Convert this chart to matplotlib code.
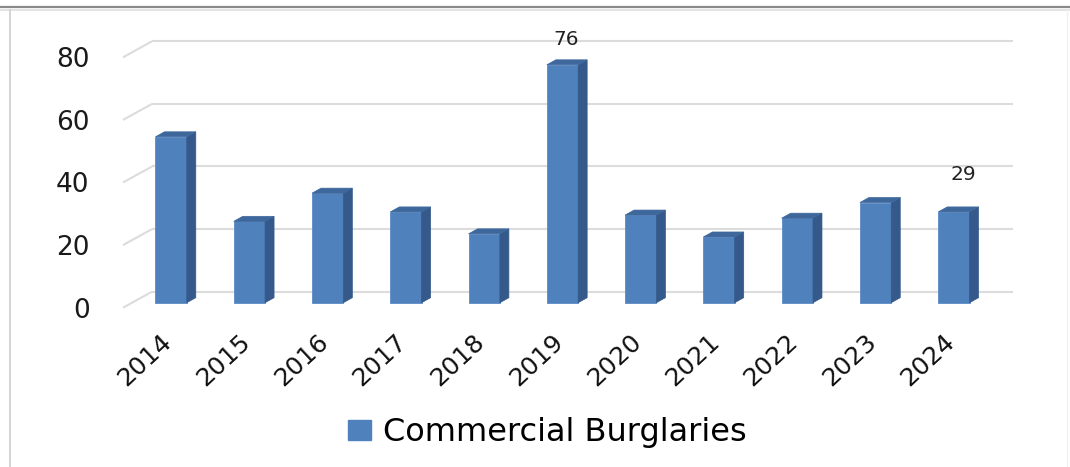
import matplotlib
matplotlib.use("Agg")
import matplotlib.pyplot as plt
from matplotlib.patches import Polygon, Patch
from matplotlib.lines import Line2D
from matplotlib.transforms import ScaledTranslation

# ---- data ----
years = ["2014", "2015", "2016", "2017", "2018", "2019",
         "2020", "2021", "2022", "2023", "2024"]
burglaries = [53, 26, 35, 29, 22, 76, 28, 21, 27, 32, 29]
y_ticks = [0, 20, 40, 60, 80]
series_name = "Commercial Burglaries"
labelled_years = ["2019", "2024"]

# ---- style ----
FRONT = "#4f81bd"
SIDE = "#34598a"
TOP = "#3e679c"
GRID = "#dcdcdc"
FONT = "DejaVu Sans"

W, H = 1070, 467
fig = plt.figure(figsize=(W / 100, H / 100), dpi=100)
fig.patch.set_facecolor("white")

# front plane of the pseudo-3D plot area, in pixels
left_px, right_px = 123, 984
top_px, bottom_px = 57.3, 307.7
ax = fig.add_axes([left_px / W, (H - bottom_px) / H,
                   (right_px - left_px) / W, (bottom_px - top_px) / H])
n = len(years)
ax.set_xlim(-0.5, n - 0.5)
ax.set_ylim(0, 80)
for s in ax.spines.values():
    s.set_visible(False)

# pixels per data unit, used to express depth offsets
px_x = (right_px - left_px) / n
px_y = (bottom_px - top_px) / 80.0

# depth vectors (pixels) -> data units
back_dx, back_dy = 29 / px_x, 16 / px_y     # back wall
bar_dx, bar_dy = 9 / px_x, 5 / px_y         # bar front offset and bar depth

# gridlines: diagonal on the side wall + horizontal on the back wall
x0 = -0.5
x1 = n - 0.5
for v in y_ticks:
    ax.plot([x0, x0 + back_dx], [v, v + back_dy], color=GRID, lw=1.5,
            clip_on=False, zorder=1, solid_capstyle="butt")
    ax.plot([x0 + back_dx, x1 + back_dx], [v + back_dy, v + back_dy],
            color=GRID, lw=1.5, clip_on=False, zorder=1, solid_capstyle="butt")

# bars: front face, right side face and top face
bw = 0.40
xs = list(range(n))
fx = [x + bar_dx for x in xs]
ax.bar(fx, burglaries, width=bw, bottom=bar_dy, color=FRONT,
       edgecolor="#5b8bc6", linewidth=0.6, zorder=3)
for xc, v in zip(fx, burglaries):
    r = xc + bw / 2
    l = xc - bw / 2
    top = v + bar_dy
    side = Polygon([(r, bar_dy), (r + bar_dx, 2 * bar_dy),
                    (r + bar_dx, top + bar_dy), (r, top)],
                   closed=True, facecolor=SIDE, edgecolor=SIDE, lw=0.5,
                   zorder=3, clip_on=False)
    cap = Polygon([(l, top), (r, top), (r + bar_dx, top + bar_dy),
                   (l + bar_dx, top + bar_dy)],
                  closed=True, facecolor=TOP, edgecolor=TOP, lw=0.5,
                  zorder=3, clip_on=False)
    ax.add_patch(side)
    ax.add_patch(cap)

# value labels (pixel shifts above the bar top)
label_shift_px = {"2019": (4, 25), "2024": (9, 37)}
for yr in labelled_years:
    i = years.index(yr)
    v = burglaries[i]
    dxp, dyp = label_shift_px[yr]
    ax.annotate(str(v), xy=(fx[i], v + bar_dy), xytext=(dxp * 0.72, dyp * 0.72),
                textcoords="offset points", ha="center", va="center",
                fontsize=14.5, color="#222222", family=FONT,
                annotation_clip=False, zorder=5)

# axis labels
ax.set_yticks(y_ticks)
ax.set_yticklabels([str(t) for t in y_ticks], family=FONT,
                   fontsize=19, color="#1a1a1a")
ax.tick_params(axis="y", length=0, pad=24)
ax.set_xticks(fx)
ax.set_xticklabels(years, rotation=43, ha="right", va="top",
                   rotation_mode="anchor", family=FONT,
                   fontsize=18, color="#111111")
ax.tick_params(axis="x", length=0, pad=16)
shift = ScaledTranslation(-11 / 100, 0, fig.dpi_scale_trans)
for lbl in ax.get_xticklabels():
    lbl.set_transform(lbl.get_transform() + shift)

# legend
handle = Patch(facecolor=FRONT, edgecolor=FRONT)
fig.legend(handles=[handle], labels=[series_name], loc="center",
           bbox_to_anchor=(547 / W, 1 - 433 / H), frameon=False,
           prop={"family": FONT, "size": 23},
           handlelength=0.72, handleheight=0.56, handletextpad=0.37)

# outer chart border
fig.add_artist(Line2D([0, 1], [1 - 6.5 / H, 1 - 6.5 / H],
                      transform=fig.transFigure, color="#8a8a8a", lw=1.6))
fig.add_artist(Line2D([0, 1], [1 - 9.5 / H, 1 - 9.5 / H],
                      transform=fig.transFigure, color="#dedede", lw=1.2))
fig.add_artist(Line2D([9.5 / W, 9.5 / W], [0, 1 - 9.5 / H],
                      transform=fig.transFigure, color="#d4d4d4", lw=1.4))
fig.add_artist(Line2D([1067 / W, 1067 / W], [0, 1 - 9.5 / H],
                      transform=fig.transFigure, color="#f0f0f0", lw=1.0))

fig.savefig("out.png", dpi=100, facecolor="white")
